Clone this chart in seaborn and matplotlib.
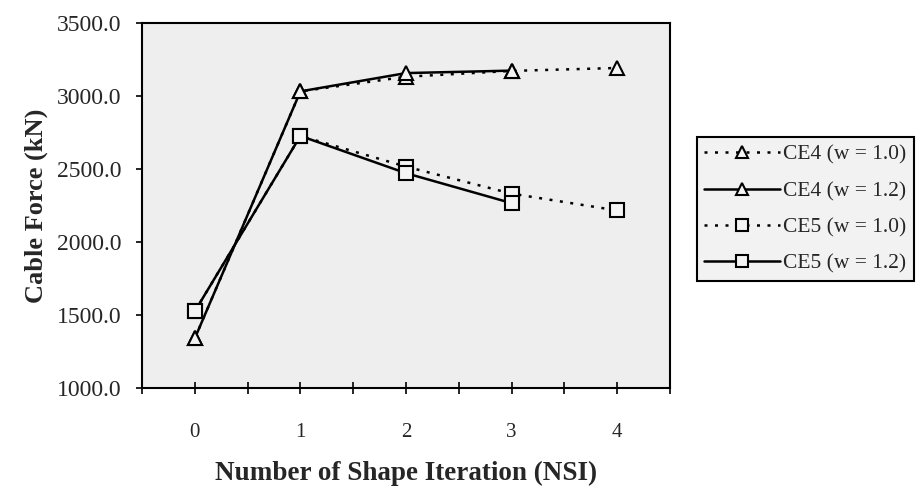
import matplotlib
matplotlib.use("Agg")
import matplotlib.pyplot as plt
import seaborn as sns
import pandas as pd
from matplotlib.ticker import MultipleLocator, FormatStrFormatter

sns.set_theme(style="white")
plt.rcParams['font.family'] = ['Liberation Serif', 'DejaVu Serif']

nsi = [0, 1, 2, 3, 4]
ce4_w10 = [1340, 3030, 3130, 3170, 3190]
ce4_w12 = [1340, 3030, 3155, 3172]
ce5_w10 = [1525, 2725, 2515, 2330, 2215]
ce5_w12 = [1525, 2725, 2470, 2265]
labels = ["CE4 (w = 1.0)", "CE4 (w = 1.2)", "CE5 (w = 1.0)", "CE5 (w = 1.2)"]

dotted = (0, (1.2, 3.0))
series = [
    (ce4_w10, '^', dotted, labels[0]),
    (ce4_w12, '^', '-', labels[1]),
    (ce5_w10, 's', dotted, labels[2]),
    (ce5_w12, 's', '-', labels[3]),
]

fig = plt.figure(figsize=(9.17, 4.93), dpi=100)
ax = fig.add_axes([0.1549, 0.213, 0.7306 - 0.1549, 0.954 - 0.213])
ax.set_facecolor('#eeeeee')

for vals, mk, ls, lab in series:
    df = pd.DataFrame({"NSI": nsi[:len(vals)], "F": vals})
    sns.lineplot(data=df, x="NSI", y="F", ax=ax, color='black', linewidth=1.8,
                 linestyle=ls, marker=mk, markersize=10, markerfacecolor='#f4f4f4',
                 markeredgecolor='black', markeredgewidth=1.5, label=lab)

ax.set_xlim(-0.5, 4.5)
ax.set_ylim(1000, 3500)
ax.xaxis.set_major_locator(MultipleLocator(1))
ax.xaxis.set_minor_locator(MultipleLocator(0.5))
ax.yaxis.set_major_locator(MultipleLocator(500))
ax.yaxis.set_major_formatter(FormatStrFormatter('%.1f'))
ax.tick_params(axis='x', which='both', bottom=True, direction='inout', length=8, width=1.2,
               color='black', labelsize=15, pad=21)
ax.tick_params(axis='y', which='major', left=True, direction='out', length=4, width=1.2,
               color='black', labelsize=17, pad=11)
for s in ax.spines.values():
    s.set_color('black')
    s.set_linewidth(1.5)

ax.set_xlabel("Number of Shape Iteration (NSI)", fontsize=19.5, fontweight='bold', labelpad=14)
ax.set_ylabel("Cable Force (kN)", fontsize=19, fontweight='bold', labelpad=6)

leg = ax.legend(loc='upper left', bbox_to_anchor=(0.760, 0.7221), bbox_transform=fig.transFigure,
                frameon=True, fancybox=False, fontsize=15.5, handlelength=3.5, handletextpad=0.15,
                borderpad=0.35, labelspacing=0.76, borderaxespad=0)
leg.get_frame().set_edgecolor('black')
leg.get_frame().set_linewidth(1.5)
leg.get_frame().set_facecolor('#f2f2f2')
leg.get_frame().set_alpha(1)
for h in leg.legend_handles:
    h.set_markersize(8)

fig.savefig("out.png", dpi=100)
